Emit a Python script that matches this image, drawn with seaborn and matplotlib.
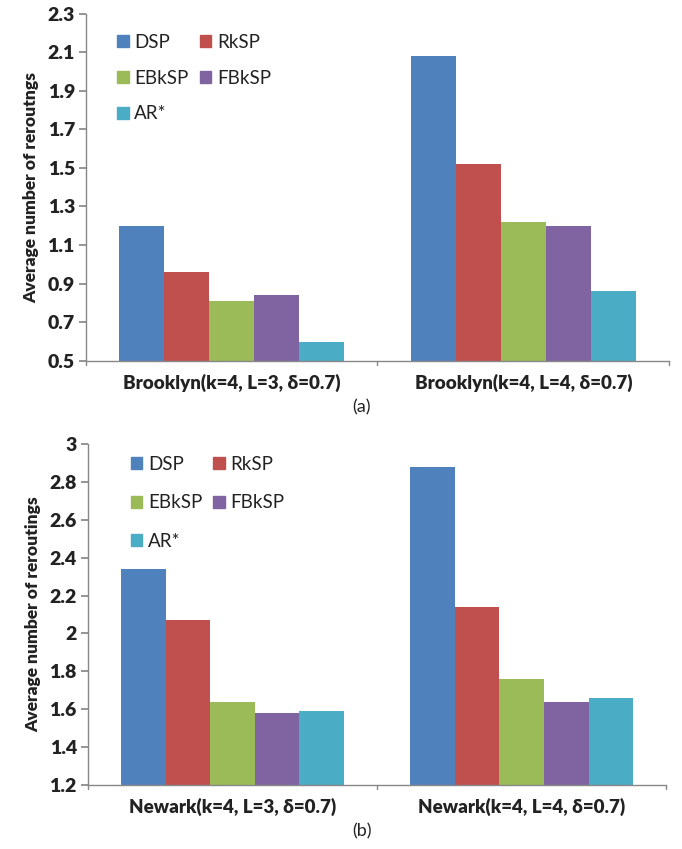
import matplotlib
matplotlib.use("Agg")
import matplotlib.pyplot as plt
import matplotlib.patches as mpatches
import seaborn as sns
import pandas as pd

methods = ["DSP", "RkSP", "EBkSP", "FBkSP", "AR*"]
colors = ["#4F81BD", "#C0504D", "#9BBB59", "#8064A2", "#4BACC6"]

cats_a = ["Brooklyn(k=4, L=3, δ=0.7)", "Brooklyn(k=4, L=4, δ=0.7)"]
vals_a_L3 = [1.20, 0.96, 0.81, 0.84, 0.60]
vals_a_L4 = [2.08, 1.52, 1.22, 1.20, 0.86]
yticks_a = [0.5, 0.7, 0.9, 1.1, 1.3, 1.5, 1.7, 1.9, 2.1, 2.3]

cats_b = ["Newark(k=4, L=3, δ=0.7)", "Newark(k=4, L=4, δ=0.7)"]
vals_b_L3 = [2.34, 2.07, 1.64, 1.58, 1.59]
vals_b_L4 = [2.88, 2.14, 1.76, 1.64, 1.66]
yticks_b = [1.2, 1.4, 1.6, 1.8, 2.0, 2.2, 2.4, 2.6, 2.8, 3.0]
yticklabels_b = ["1.2", "1.4", "1.6", "1.8", "2", "2.2", "2.4", "2.6", "2.8", "3"]

sns.set_theme(style="white")
plt.rcParams["font.family"] = ["Lato", "DejaVu Sans"]

fig = plt.figure(figsize=(6.82, 8.49), dpi=100)
ax1 = fig.add_axes([0.126, 0.575, 0.855, 0.409])
ax2 = fig.add_axes([0.129, 0.0754, 0.848, 0.4016])


def make_df(cats, v1, v2):
    rows = []
    for m, a, b in zip(methods, v1, v2):
        rows.append({"cat": cats[0], "method": m, "value": a})
        rows.append({"cat": cats[1], "method": m, "value": b})
    return pd.DataFrame(rows)


def draw(ax, df, cats, yticks, yticklabels, ylabel, panel, leg_anchor,
         leg_spacing):
    sns.barplot(data=df, x="cat", y="value", hue="method", order=cats,
                hue_order=methods, palette=colors, width=0.77, ax=ax,
                saturation=1, linewidth=0, legend=False)
    ax.set_xlim(-0.5, 1.5)
    ax.set_ylim(yticks[0], yticks[-1])
    ax.set_yticks(yticks)
    ax.set_yticklabels(yticklabels, fontsize=14, fontweight="heavy",
                       color="#222222")
    ax.set_xticks([0, 1])
    ax.set_xticklabels(cats, fontsize=13.5, fontweight="heavy",
                       color="#222222")
    ax.tick_params(axis="x", length=0, pad=9)
    ax.tick_params(axis="y", length=5, color="#888888", direction="out",
                   left=True, pad=3)
    for xb in [-0.5, 0.5, 1.5]:
        ax.plot([xb, xb], [0, -0.012], transform=ax.get_xaxis_transform(),
                color="#888888", lw=1, clip_on=False)
    ax.set_xlabel("")
    ax.set_ylabel(ylabel, fontsize=12.5, fontweight="heavy", labelpad=6,
                  color="#222222")
    for s in ["top", "right"]:
        ax.spines[s].set_visible(False)
    for s in ["left", "bottom"]:
        ax.spines[s].set_color("#888888")
        ax.spines[s].set_linewidth(1)
    hmap = dict(zip(methods, colors))
    order = ["DSP", "EBkSP", "AR*", "RkSP", "FBkSP"]
    handles = [mpatches.Patch(color=hmap[m], label=m) for m in order]
    ax.legend(handles=handles, ncol=2, loc="upper left",
              bbox_to_anchor=leg_anchor, frameon=False, fontsize=13.5,
              handlelength=0.6, handleheight=0.6, handletextpad=0.3,
              labelspacing=leg_spacing, columnspacing=0.6,
              labelcolor="#222222")
    ax.text(0.473, -0.135, panel, transform=ax.transAxes, ha="center",
            va="center", fontsize=13, color="#222222")


draw(ax1, make_df(cats_a, vals_a_L3, vals_a_L4), cats_a, yticks_a,
     [f"{v:.1f}" for v in yticks_a], "Average number of reroutngs", "(a)",
     (0.025, 0.99), 1.0)
draw(ax2, make_df(cats_b, vals_b_L3, vals_b_L4), cats_b, yticks_b,
     yticklabels_b, "Average number of reroutings", "(b)",
     (0.045, 1.015), 1.15)

fig.savefig("out.png", dpi=100)
